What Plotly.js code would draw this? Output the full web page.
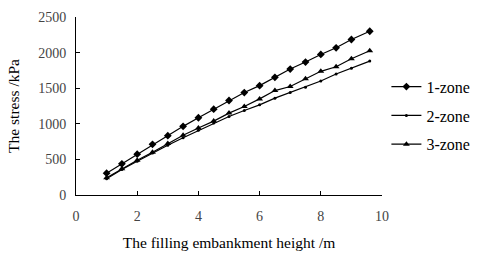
<!DOCTYPE html>
<html><head><meta charset="utf-8">
<script src="https://cdn.plot.ly/plotly-3.0.1.min.js"></script>
<style>html,body{margin:0;padding:0;background:#fff}#c{width:480px;height:256px}</style>
</head><body><div id="c"></div>
<script>
const heights = [1,1.5,2,2.5,3,3.5,4,4.5,5,5.5,6,6.5,7,7.5,8,8.5,9,9.6];
const zone1 = [307,438,573,712,833,964,1085,1206,1327,1439,1536,1653,1769,1867,1974,2067,2184,2300];
const zone2 = [228,359,475,591,698,805,908,1010,1103,1187,1266,1360,1439,1513,1602,1699,1779,1881];
const zone3 = [242,368,489,601,722,838,941,1038,1150,1243,1350,1467,1523,1634,1737,1802,1914,2025];
const names = ['1-zone','2-zone','3-zone'];
const font = 'Liberation Serif, Times New Roman, serif';
const mk = (y, name, sym, size, g) => ({
  x: heights, y: y, name: name, type: 'scatter', mode: 'lines+markers',
  legendgroup: g,
  line: {color: '#000', width: 1.2},
  marker: {symbol: sym, size: size, color: '#000'}
});
const data = [
  mk(zone1, names[0], 'diamond', 6, 'a'),
  mk(zone2, names[1], 'circle', 3, 'b'),
  mk(zone3, names[2], 'triangle-up', 6, 'c')
];
const layout = {
  width: 480, height: 256,
  margin: {l: 76, r: 98, t: 17, b: 61},
  paper_bgcolor: '#fff', plot_bgcolor: '#fff',
  font: {family: font, size: 14, color: '#000'},
  showlegend: true,
  legend: {xref: 'container', yref: 'container', x: 0.805, y: 0.548, xanchor: 'left', yanchor: 'middle',
           font: {size: 16, family: font},
           traceorder: 'grouped', tracegroupgap: 5, bgcolor: 'rgba(0,0,0,0)'},
  xaxis: {range: [0, 10], dtick: 2, showgrid: false, zeroline: false, showline: true,
          linecolor: '#000', linewidth: 1, ticks: 'inside', ticklen: 4, tickcolor: '#000',
          tickfont: {size: 14, color: '#444'}, ticklabelstandoff: 8,
          title: {text: 'The filling embankment height /m', font: {size: 15.5}, standoff: 14}},
  yaxis: {range: [0, 2500], dtick: 500, showgrid: false, zeroline: false, showline: true,
          linecolor: '#000', linewidth: 1, ticks: 'inside', ticklen: 4, tickcolor: '#000',
          tickfont: {size: 14, color: '#444'}, ticklabelstandoff: 6,
          title: {text: 'The stress /kPa', font: {size: 15.5}, standoff: 14}}
};
Plotly.newPlot('c', data, layout, {staticPlot: true});
</script></body></html>
